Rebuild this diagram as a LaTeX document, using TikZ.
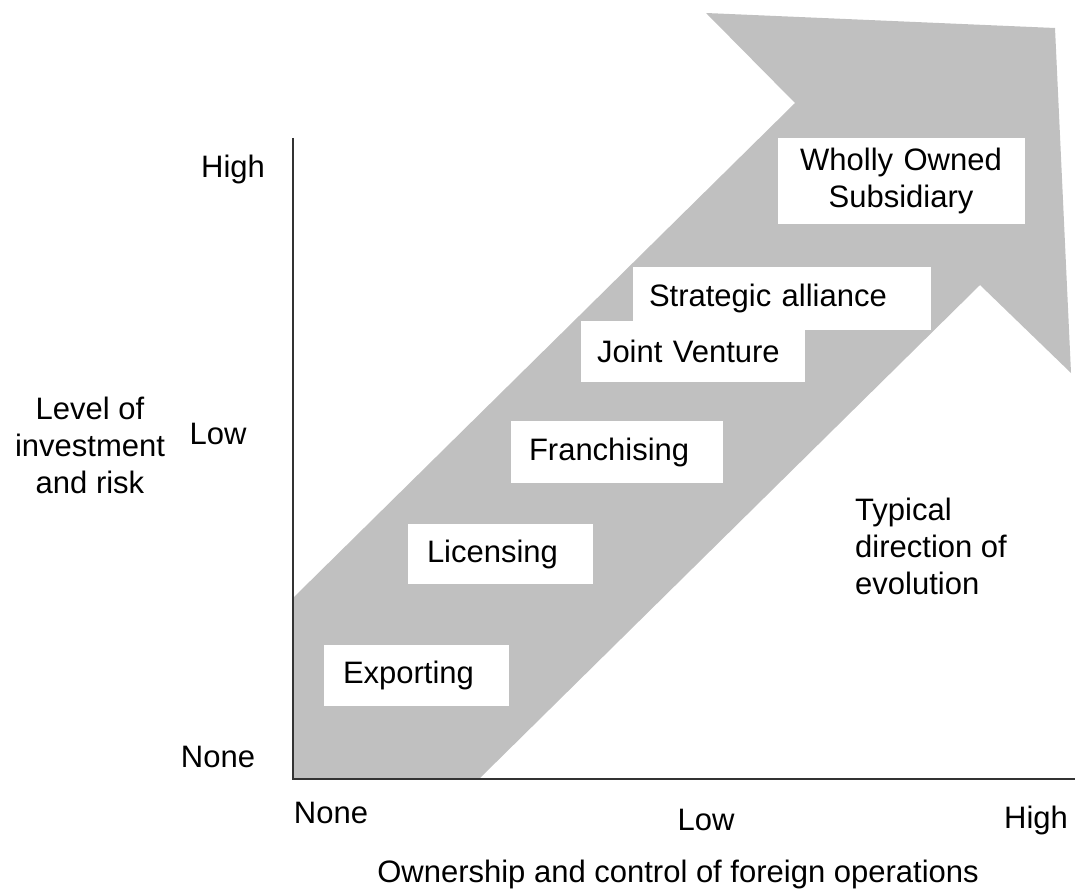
\documentclass[tikz,border=0pt]{standalone}
\usepackage{fontspec}
\setmainfont{Liberation Sans}
\definecolor{arrowgray}{HTML}{C0C0C0}
\definecolor{axisgray}{HTML}{333333}
\begin{document}
\begin{tikzpicture}[x=1pt,y=-1pt,
  lbl/.style={font=\fontsize{31}{37}\selectfont, inner sep=0pt},
  stagebox/.style={fill=white, draw=none, font=\fontsize{31}{37}\selectfont, align=left, inner ysep=0pt, anchor=center},
  axisline/.style={draw=axisgray, line width=1.5pt}]
\useasboundingbox (0,0) rectangle (1075,890);
% big arrow
\fill[arrowgray] (293,598) -- (795,103) -- (706,13) -- (1055,28) -- (1071,373) -- (980,285) -- (479,779) -- (293,779) -- cycle;
% axes
\coordinate (ytop) at (293,138);
\coordinate (origin) at (293,779);
\coordinate (xend) at (1075,779);
\draw[axisline] (ytop) -- (origin) -- (xend);
% stage boxes
\node[stagebox, inner xsep=19pt, text width=147pt, minimum height=61pt] (exp) at (416.5,675.5) {Exporting};
\node[stagebox, inner xsep=19pt, text width=147pt, minimum height=60pt] (lic) at (500.5,554) {Licensing};
\node[stagebox, inner xsep=18pt, text width=176pt, minimum height=62pt] (fra) at (617,452) {Franchising};
\node[stagebox, inner xsep=16pt, text width=266pt, minimum height=63pt] (sa) at (782,298.5) {Strategic alliance};
\node[stagebox, inner xsep=16pt, text width=192pt, minimum height=61pt] (jv) at (693,351) {Joint Venture};
\node[stagebox, align=center, inner xsep=0pt, text width=247pt, minimum height=86pt] (wos) at (901,181) {Wholly Owned\\Subsidiary};
% y axis labels
\node[lbl] (yhigh) at (233,169) {High};
\node[lbl] (ylow) at (218,434) {Low};
\node[lbl] (ynone) at (218,757) {None};
\node[lbl, align=center] (ytitle) at (90,445) {Level of\\investment\\and risk};
% x axis labels
\node[lbl] (xnone) at (331,813) {None};
\node[lbl] (xlow) at (706,820) {Low};
\node[lbl] (xhigh) at (1036,820) {High};
\node[lbl] (xtitle) at (678,874) {Ownership and control of foreign operations};
% typical direction
\node[lbl, align=left, anchor=west] (typ) at (855,546) {Typical\\direction of\\evolution};
\end{tikzpicture}
\end{document}
